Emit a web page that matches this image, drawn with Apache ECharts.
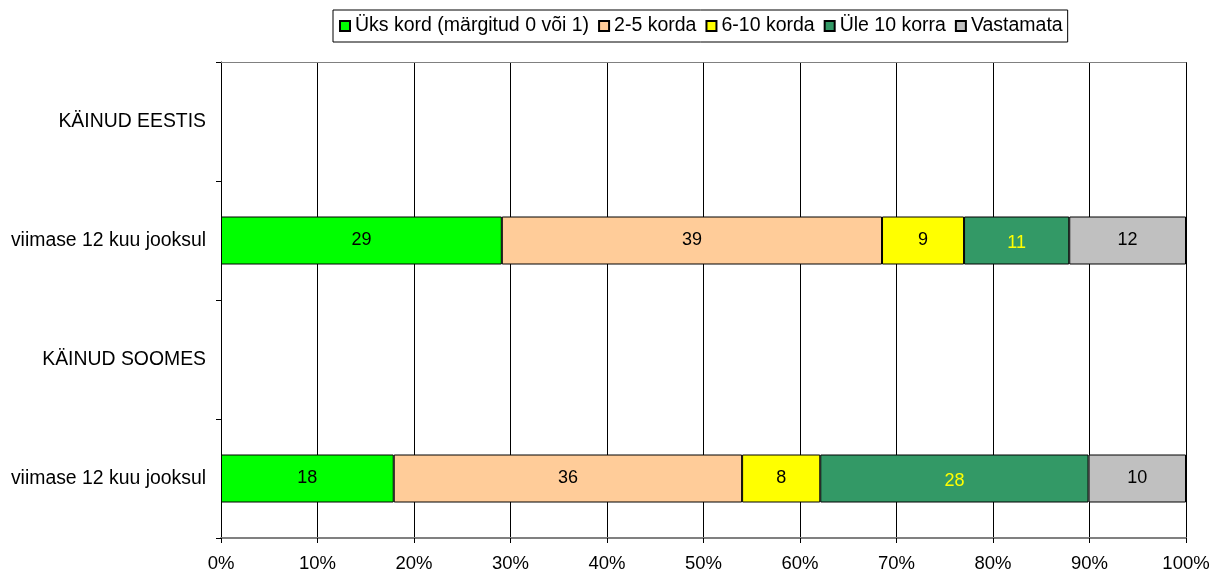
<!DOCTYPE html>
<html>
<head>
<meta charset="utf-8">
<script src="https://cdn.jsdelivr.net/npm/echarts@6/dist/echarts.min.js"></script>
<style>
  html, body { margin: 0; padding: 0; background: #fff; }
  #chart { width: 1220px; height: 577px; }
</style>
</head>
<body>
<div id="chart"></div>
<script>
// andmed
var categories = ['KÄINUD EESTIS', 'viimase 12 kuu jooksul', 'KÄINUD SOOMES', 'viimase 12 kuu jooksul'];
var seriesNames = ['Üks kord (märgitud 0 või 1)', '2-5 korda', '6-10 korda', 'Üle 10 korra', 'Vastamata'];
var once      = ['-', 29.1, '-', 17.9];
var twoFive   = ['-', 39.4, '-', 36.1];
var sixTen    = ['-', 8.5,  '-', 8.1];
var overTen   = ['-', 10.9, '-', 27.8];
var noAnswer  = ['-', 12.1, '-', 10.1];

var colors = ['#00FF00', '#FFCC99', '#FFFF00', '#339966', '#C0C0C0'];
var labelColors = ['#000', '#000', '#000', '#FFFF00', '#000'];
var allData = [once, twoFive, sixTen, overTen, noAnswer];

var series = allData.map(function (d, i) {
    return {
        name: seriesNames[i],
        type: 'bar',
        stack: 'total',
        barWidth: 48,
        data: d,
        itemStyle: { color: colors[i], borderColor: '#000', borderWidth: 1 },
        label: {
            show: true,
            position: 'inside',
            color: labelColors[i],
            fontSize: 18,
            offset: i === 3 ? [0, 3] : [0, 0],
            formatter: function (p) { return Math.round(p.value); }
        },
        emphasis: { disabled: true }
    };
});

var myChart = echarts.init(document.getElementById('chart'));
myChart.setOption({
    animation: false,
    textStyle: { fontFamily: 'Liberation Sans' },
    legend: {
        top: 10,
        left: 333,
        data: seriesNames,
        icon: 'rect',
        itemWidth: 10,
        itemHeight: 10,
        itemGap: 9,
        padding: [6, 5, 6, 6],
        borderColor: '#000',
        borderWidth: 1,
        textStyle: { color: '#000', fontSize: 19.5, padding: [0, 0, 0, 0] }
    },
    grid: { left: 221, right: 34, top: 62, bottom: 39, containLabel: false },
    xAxis: [{
        type: 'value',
        min: 0,
        max: 100,
        interval: 10,
        axisLine: { show: true, lineStyle: { color: '#808080', width: 2 } },
        axisTick: { show: true, length: 5, lineStyle: { color: '#000' } },
        axisLabel: { color: '#000', fontSize: 18.5, margin: 16, formatter: '{value}%' },
        splitLine: { show: true, lineStyle: { color: '#000', width: 1 } }
    }, {
        type: 'value',
        position: 'top',
        min: 0,
        max: 100,
        axisLine: { show: true, lineStyle: { color: '#808080', width: 1 } },
        axisTick: { show: false },
        axisLabel: { show: false },
        splitLine: { show: false }
    }],
    yAxis: {
        type: 'category',
        inverse: true,
        data: categories,
        axisLine: { show: true, lineStyle: { color: '#000', width: 1 } },
        axisTick: { show: true, length: 5, lineStyle: { color: '#000' } },
        axisLabel: { color: '#000', fontSize: 19.4, margin: 15 }
    },
    series: series
});
</script>
</body>
</html>
